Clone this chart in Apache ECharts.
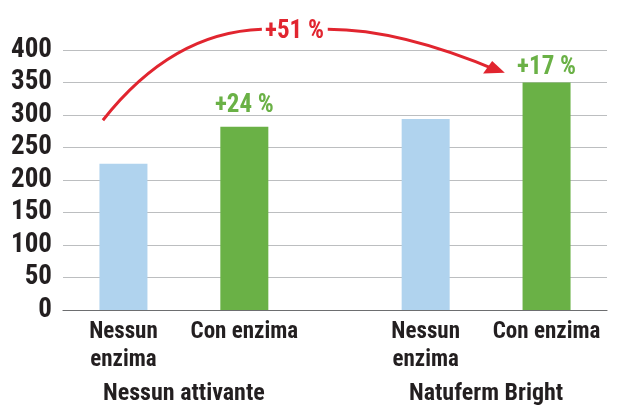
<!DOCTYPE html>
<html><head><meta charset="utf-8">
<script src="https://cdn.jsdelivr.net/npm/echarts@6/dist/echarts.min.js"></script>
<style>html,body{margin:0;padding:0;background:#fff}#c{width:619px;height:406px}</style>
</head><body><div id="c"></div>
<script>
// ---- data ----
const categories = ['Nessun\nenzima', 'Con enzima', 'Nessun\nenzima', 'Con enzima'];
const values = [225, 282, 294, 350];
const groups = ['Nessun attivante', 'Natuferm Bright'];
const changes = ['', '+24 %', '', '+17 %'];
const totalChange = '+51 %';
const yTicks = [0, 50, 100, 150, 200, 250, 300, 350, 400];

// ---- layout (slot positions on a 10-slot axis) ----
const SLOTS = 10, barSlots = [1, 3, 6, 8], groupSlots = [2, 7];
const FONT = "'Roboto Condensed','Open Sans Condensed','Liberation Sans Narrow',sans-serif";
const TXT = '#231f20', GREEN = '#6ab146', BLUE = '#b0d3ee', RED = '#e1252f';

const slotCats = Array(SLOTS).fill('');
const slotVals = Array(SLOTS).fill(null);
const groupCats = Array(SLOTS).fill('');
barSlots.forEach((s, i) => {
  slotCats[s] = categories[i];
  slotVals[s] = {
    value: values[i],
    itemStyle: { color: i % 2 ? GREEN : BLUE },
    label: changes[i] ? { show: true, distance: i === 1 ? 8 : 2 } : { show: false }
  };
});
groupSlots.forEach((s, i) => groupCats[s] = groups[i]);
const labelBySlot = {}; barSlots.forEach((s, i) => labelBySlot[s] = changes[i]);

const chart = echarts.init(document.getElementById('c'), null, { renderer: 'canvas' });
chart.setOption({
  animation: false,
  grid: { left: 63, right: 12, top: 50, bottom: 96, containLabel: false },
  xAxis: [{
    type: 'category', data: slotCats, boundaryGap: false,
    axisLine: { lineStyle: { color: '#6d6e70', width: 1.2 } },
    axisTick: { show: false },
    axisLabel: { interval: 0, color: TXT, fontFamily: FONT, fontSize: 23, lineHeight: 28, margin: 8, fontWeight: 'bold' },
    splitLine: { show: false }
  }, {
    type: 'category', data: groupCats, boundaryGap: false, position: 'bottom',
    axisLine: { show: false }, axisTick: { show: false },
    axisLabel: { interval: 0, color: TXT, fontFamily: FONT, fontSize: 24, margin: 72, fontWeight: 'bold' }
  }],
  yAxis: {
    type: 'value', min: yTicks[0], max: yTicks[yTicks.length - 1], interval: yTicks[1] - yTicks[0],
    axisLine: { show: false }, axisTick: { show: false },
    axisLabel: { color: TXT, fontFamily: FONT, fontSize: 27, margin: 11, fontWeight: 'bold' },
    splitLine: { lineStyle: { color: '#bcbec0', width: 1.2 } }
  },
  series: [{
    type: 'bar', data: slotVals, barWidth: 48, xAxisIndex: 0,
    label: {
      show: false, position: 'top', color: GREEN, fontFamily: FONT, fontSize: 25, fontWeight: 'bold',
      formatter: p => labelBySlot[p.dataIndex] || ''
    }
  }]
});

// ---- annotation arrow (anchored to data coordinates) ----
const x0 = chart.convertToPixel({ xAxisIndex: 0 }, 0);
const x1 = chart.convertToPixel({ xAxisIndex: 0 }, 1);
const P = (i, v) => [x0 + i * (x1 - x0), chart.convertToPixel({ yAxisIndex: 0 }, v)];
const a0 = P(0.66, 292), ac = P(1.80, 427), a1 = P(3.29, 432);
const b0 = P(4.38, 432), bc = P(5.58, 432), b1 = P(7.20, 368);
const tip = P(7.31, 365), c1 = P(6.95, 364), c2 = P(7.10, 383);
const tc = P(3.83, 428);
chart.setOption({
  graphic: [
    { type: 'bezierCurve', shape: { x1: a0[0], y1: a0[1], cpx1: ac[0], cpy1: ac[1], x2: a1[0], y2: a1[1] },
      style: { stroke: RED, lineWidth: 3, fill: null } },
    { type: 'bezierCurve', shape: { x1: b0[0], y1: b0[1], cpx1: bc[0], cpy1: bc[1], x2: b1[0], y2: b1[1] },
      style: { stroke: RED, lineWidth: 3, fill: null } },
    { type: 'polygon', shape: { points: [tip, c1, c2] }, style: { fill: RED } },
    { type: 'text', x: tc[0], y: tc[1],
      style: { text: totalChange, fill: RED, font: `bold 25px ${FONT}`, align: 'center', verticalAlign: 'middle' } }
  ]
});
</script></body></html>
